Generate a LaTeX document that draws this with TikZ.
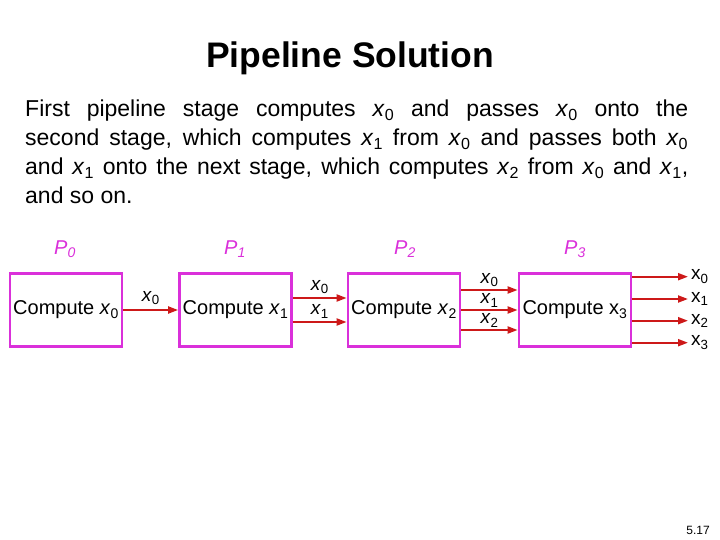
\documentclass[tikz,border=0pt]{standalone}
\usepackage{fontspec}
\setmainfont{Liberation Sans}
\usetikzlibrary{arrows.meta,positioning}
\definecolor{boxmag}{RGB}{218,48,218}
\definecolor{arrred}{RGB}{205,25,25}
\newcommand{\xv}[1]{\textit{x}\textsubscript{#1}}
\newcommand{\xu}[1]{x\textsubscript{#1}}
\begin{document}
\begin{tikzpicture}[x=1pt,y=-1pt,
  stagebox/.style={draw=boxmag,line width=2.8pt,minimum width=112pt,minimum height=73pt,inner sep=0pt,font=\fontsize{20}{24}\selectfont},
  plabel/.style={text=boxmag,font=\fontsize{20}{24}\selectfont\itshape},
  flow/.style={draw=arrred,line width=2pt,-{Triangle[length=10pt,width=7pt]}},
  flowlab/.style={font=\fontsize{19}{22}\selectfont,inner sep=1pt}]
\useasboundingbox (0,0) rectangle (720,540);
\node[font=\fontsize{35.5}{40}\selectfont\bfseries] (title) at (350,58) {Pipeline Solution};
\node[anchor=north west,text width=663pt,align=justify,inner sep=0pt,font=\fontsize{23}{29}\selectfont] (body) at (25,99.5)
{First pipeline stage computes \xv{0} and passes \xv{0} onto the\linebreak
second stage, which computes \xv{1} from \xv{0} and passes both \xv{0}\linebreak
and \xv{1} onto the next stage, which computes \xv{2} from \xv{0} and \xv{1},\linebreak
and so on.};
\node[stagebox] (b1) at (66,310) {Compute \xv{0}};
\node[stagebox] (b2) at (235.5,310) {Compute \xv{1}};
\node[stagebox] (b3) at (404,310) {Compute \xv{2}};
\node[stagebox] (b4) at (575,310) {Compute \xu{3}};
\node[plabel] (p0) at (65,249) {P\textsubscript{0}};
\node[plabel] (p1) at (235,249) {P\textsubscript{1}};
\node[plabel] (p2) at (405,249) {P\textsubscript{2}};
\node[plabel] (p3) at (575,249) {P\textsubscript{3}};
% b1 -> b2
\draw[flow] (b1.east) -- node[flowlab,above=3pt] (l10) {\xv{0}} (b2.west);
% b2 -> b3
\draw[flow] ([yshift=12pt]b2.east) -- node[flowlab,above=2pt] (l20) {\xv{0}} ([yshift=12pt]b3.west);
\draw[flow] ([yshift=-12pt]b2.east) -- node[flowlab,above=2pt] (l21) {\xv{1}} ([yshift=-12pt]b3.west);
% b3 -> b4
\draw[flow] ([yshift=20pt]b3.east) -- node[flowlab,above=1pt] (l30) {\xv{0}} ([yshift=20pt]b4.west);
\draw[flow] (b3.east) -- node[flowlab,above=1pt] (l31) {\xv{1}} (b4.west);
\draw[flow] ([yshift=-20pt]b3.east) -- node[flowlab,above=1pt] (l32) {\xv{2}} ([yshift=-20pt]b4.west);
% outputs
\coordinate (o0) at (688,276.7);
\coordinate (o1) at (688,299);
\coordinate (o2) at (688,320.7);
\coordinate (o3) at (688,342.7);
\draw[flow] (b4.east |- o0) -- (o0) node[flowlab,right=1pt] (q0) {\xu{0}};
\draw[flow] (b4.east |- o1) -- (o1) node[flowlab,right=1pt] (q1) {\xu{1}};
\draw[flow] (b4.east |- o2) -- (o2) node[flowlab,right=1pt] (q2) {\xu{2}};
\draw[flow] (b4.east |- o3) -- (o3) node[flowlab,right=1pt] (q3) {\xu{3}};
\node[font=\fontsize{12}{14}\selectfont] (pg) at (698,530) {5.17};
\end{tikzpicture}
\end{document}
